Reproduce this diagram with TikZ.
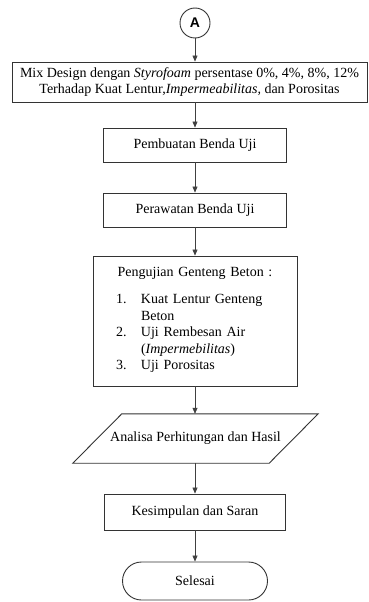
\documentclass[tikz,border=0pt]{standalone}
\usepackage{fontspec}
\setmainfont{Liberation Serif}
\setsansfont{Liberation Sans}
\usetikzlibrary{arrows.meta}

\begin{document}
\begin{tikzpicture}[
    x=1pt, y=-1pt,
    every node/.style={font=\fontsize{14}{16.5}\selectfont},
    outline/.style={draw=black!80, line width=0.9pt},
    process/.style={rectangle, outline, minimum height=34pt, align=center},
    connector/.style={circle, outline, minimum size=30pt, inner sep=0pt, font=\sffamily\bfseries\fontsize{14}{16}\selectfont},
    data/.style={rectangle, minimum width=196pt, minimum height=49pt, inner sep=0pt},
    terminal/.style={rectangle, rounded corners=19pt, outline, minimum width=145pt, minimum height=38pt},
    flow/.style={draw=black!75, line width=0.6pt, -{Triangle[length=6pt, width=5pt]}}
]
\useasboundingbox (0,0) rectangle (368,602);

% Flow steps
\node[connector] (A) at (195, 23) {A};
\node[process, minimum width=355pt, minimum height=40pt, inner xsep=0pt] (mix) at (189.5, 82)
    {Mix Design dengan \textit{Styrofoam} persentase 0\%, 4\%, 8\%, 12\%\\Terhadap Kuat Lentur,\textit{Impermeabilitas,} dan Porositas};
\node[process, minimum width=183pt] (buat) at (195, 145) {Pembuatan Benda Uji};
\node[process, minimum width=183pt] (rawat) at (195, 210) {Perawatan Benda Uji};
\node[process, minimum width=204pt, minimum height=130pt, text width=180pt, align=left] (uji) at (195, 321) {%
    \centering Pengujian Genteng Beton :\par\vspace{11pt}
    \raggedright
    \begin{tabular}[t]{@{\hspace{11pt}}l@{\hspace{0pt}}l@{}}
    \makebox[25pt][l]{1.} & Kuat Lentur Genteng\\
     & Beton\\
    2. & Uji Rembesan Air\\
     & (\textit{Impermebilitas})\\
    3. & Uji Porositas
    \end{tabular}};
\node[data] (analisa) at (195.5, 438.5) {Analisa Perhitungan dan Hasil};
\draw[outline] ([xshift=24.5pt]analisa.north west) -- ([xshift=24.5pt]analisa.north east)
    -- ([xshift=-24.5pt]analisa.south east) -- ([xshift=-24.5pt]analisa.south west) -- cycle;
\node[process, minimum width=181pt, minimum height=36pt] (simpul) at (195, 512) {Kesimpulan dan Saran};
\node[terminal] (selesai) at (195, 581) {Selesai};

% Connectors
\draw[flow] (A) -- (A |- mix.north);
\draw[flow] (mix.south -| buat) -- (buat);
\draw[flow] (buat) -- (rawat);
\draw[flow] (rawat) -- (uji);
\draw[flow] (uji) -- (uji |- analisa.north);
\draw[flow] (analisa.south -| simpul) -- (simpul);
\draw[flow] (simpul) -- (selesai);
\end{tikzpicture}
\end{document}
